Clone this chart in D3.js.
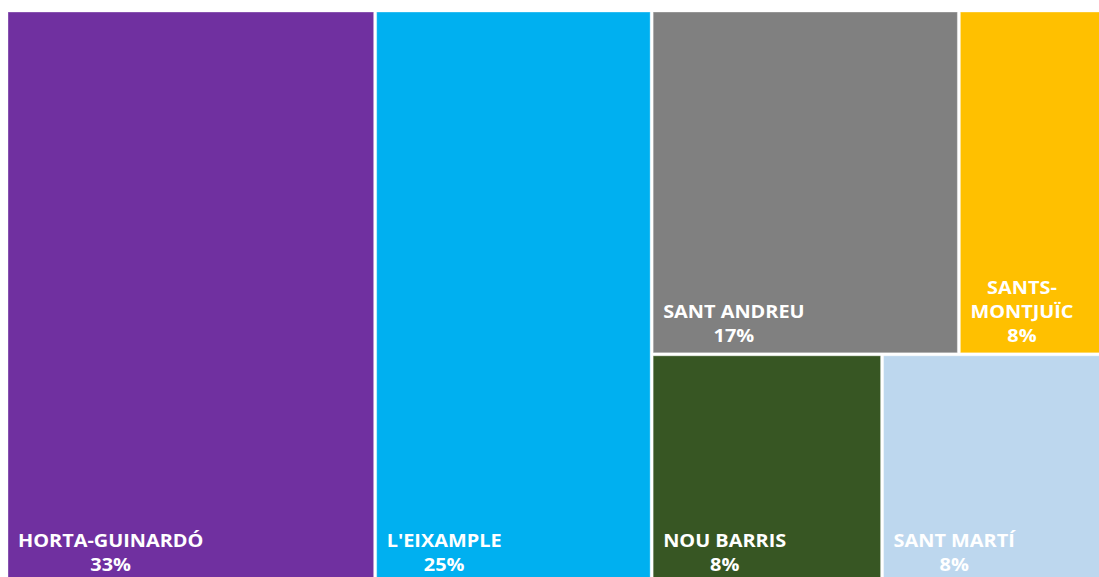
<!DOCTYPE html>
<html>
<head>
<meta charset="utf-8">
<script src="https://cdn.jsdelivr.net/npm/d3@7"></script>
<style>
  html, body { margin: 0; padding: 0; background: #fff; }
  svg { display: block; }
</style>
</head>
<body>
<svg id="chart" width="1099" height="577"></svg>
<script>
// Data
const districts = ["HORTA-GUINARDÓ", "L'EIXAMPLE", "SANT ANDREU", "SANTS-MONTJUÏC", "NOU BARRIS", "SANT MARTÍ"];
const counts    = [4, 3, 2, 1, 1, 1];
const colors    = ["#7030A0", "#00B0F0", "#808080", "#FFC000", "#375623", "#BDD7EE"];
// layout grouping (Excel-style): first two are columns, the rest form two rows in a third column
const topRow = [2, 3];
const bottomRow = [4, 5];

const total = d3.sum(counts);
const leaf = i => ({ name: districts[i], value: counts[i], color: colors[i] });
const tree = {
  name: "root",
  children: [
    leaf(0),
    leaf(1),
    { name: "rest", children: [
        { name: "top", children: topRow.map(leaf) },
        { name: "bottom", children: bottomRow.map(leaf) }
    ]}
  ]
};

const ox = 8, oy = 12, tw = 1103, th = 570;

const root = d3.hierarchy(tree).sum(d => d.children ? 0 : d.value);
d3.treemap()
  .tile(d3.treemapSliceDice)
  .size([tw, th])
  .paddingInner(3)(root);

const svg = d3.select("#chart");
const g = svg.append("g").attr("transform", `translate(${ox},${oy})`);

const leaves = root.leaves();
const cell = g.selectAll("g.cell").data(leaves).join("g").attr("class", "cell");

cell.append("rect")
  .attr("x", d => d.x0)
  .attr("y", d => d.y0)
  .attr("width", d => d.x1 - d.x0)
  .attr("height", d => d.y1 - d.y0)
  .attr("fill", d => d.data.color)
  .attr("stroke", "#ffffff")
  .attr("stroke-opacity", 0.35)
  .attr("stroke-width", 1);

const fontSize = 17, sx = 1.17, lineH = 24, padX = 10, padBottom = 11;

cell.each(function(d) {
  const sel = d3.select(this);
  const pct = Math.round(d.data.value / total * 100) + "%";
  const maxW = (d.x1 - d.x0) - 2 * padX;
  const left = d.x0 + padX;
  const lastY = d.y1 - padBottom;
  const wrap = sel.append("g").attr("transform", `translate(${left},${lastY}) scale(${sx},1)`);
  const tx = wrap.append("text")
    .attr("font-family", "'Open Sans', 'DejaVu Sans', sans-serif")
    .attr("font-weight", 700)
    .attr("font-size", fontSize)
    .attr("fill", "#ffffff");
  let lines = [d.data.name];
  const probe = tx.append("tspan").text(d.data.name);
  if (probe.node().getComputedTextLength() * sx > maxW) {
    const name = d.data.name;
    const hy = name.indexOf("-");
    if (hy >= 0) lines = [name.slice(0, hy + 1), name.slice(hy + 1)];
    else lines = name.split(" ");
  }
  probe.remove();
  lines.push(pct);
  const spans = tx.selectAll("tspan").data(lines).join("tspan").text(t => t);
  let blockW = 0;
  spans.each(function() { blockW = Math.max(blockW, this.getComputedTextLength()); });
  spans
    .attr("text-anchor", "middle")
    .attr("x", blockW / 2)
    .attr("y", (t, i) => -(lines.length - 1 - i) * lineH);
});
</script>
</body>
</html>
